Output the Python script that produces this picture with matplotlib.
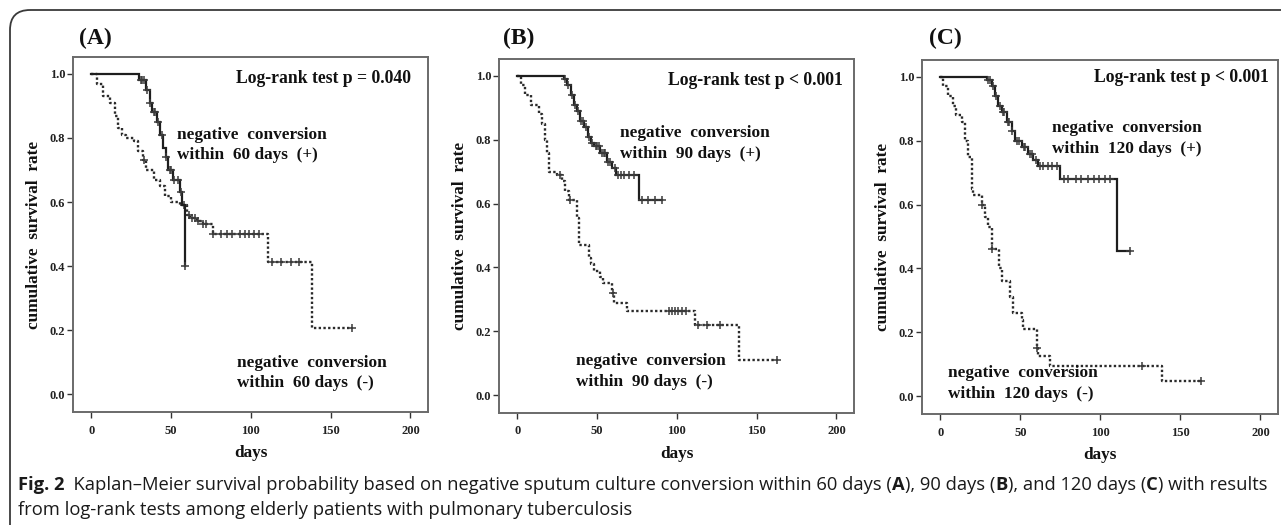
import numpy as np
import matplotlib
matplotlib.use("Agg")
import matplotlib.pyplot as plt
from matplotlib.patches import FancyBboxPatch

# ---------------- data ----------------
# Panel A: 60 days
A_pos_t = [0, 30, 34.5, 36.5, 38, 41, 43, 45, 46.5, 48, 51, 55.5, 57, 59]
A_pos_s = [1.0, 0.98, 0.95, 0.91, 0.88, 0.85, 0.81, 0.77, 0.74, 0.70, 0.67, 0.63, 0.59, 0.40]
A_pos_end = 59
A_pos_cens = [31, 32, 33, 35, 37, 39, 40, 42, 44, 47, 49, 50, 52, 54, 56, 59]

A_neg_t = [0, 3.5, 7.5, 12, 15, 17, 19, 22, 26.5, 29.5, 32.5, 34, 39, 43, 46, 50, 55.5, 60, 62, 66, 70, 76, 110.5, 138.5]
A_neg_s = [1.0, 0.97, 0.93, 0.91, 0.87, 0.83, 0.81, 0.80, 0.79, 0.76, 0.73, 0.70, 0.67, 0.65, 0.62, 0.60, 0.59, 0.56, 0.55, 0.54, 0.53, 0.50, 0.414, 0.207]
A_neg_end = 163.5
A_neg_cens = [33, 58, 61, 63, 65, 67, 70, 72, 76, 81, 85, 88, 93, 96, 99, 102, 105, 113, 119, 125, 130, 163.5]

# Panel B: 90 days
B_pos_t = [0, 29, 31, 33.5, 35.5, 37.5, 39.5, 42, 44, 46, 48, 52, 56, 59.5, 62, 76.2]
B_pos_s = [1.0, 0.99, 0.97, 0.94, 0.91, 0.89, 0.86, 0.84, 0.81, 0.79, 0.78, 0.76, 0.73, 0.71, 0.69, 0.61]
B_pos_end = 90.8
B_pos_cens = [30, 32, 34, 36, 38, 40, 41, 43, 45, 47, 49, 50, 51, 53, 54, 55, 57, 58, 61, 63, 65, 67, 70, 73, 78, 82, 86, 90.8]

B_neg_t = [0, 2, 5, 8.5, 13.5, 15.5, 17.5, 18.8, 19.8, 25, 28, 30, 32.4, 37.2, 38.6, 45, 46, 48, 52, 53.5, 59.5, 60.5, 69, 111.5, 138.8]
B_neg_s = [1.0, 0.97, 0.94, 0.91, 0.88, 0.85, 0.80, 0.76, 0.70, 0.69, 0.67, 0.64, 0.61, 0.555, 0.47, 0.43, 0.41, 0.39, 0.37, 0.35, 0.32, 0.29, 0.265, 0.22, 0.11]
B_neg_end = 162.8
B_neg_cens = [27, 33, 59.8, 95, 97, 99, 101, 103, 106, 113, 119, 127, 162.8]

# Panel C: 120 days
C_pos_t = [0, 29, 32, 34, 36, 38.3, 41.4, 44.6, 46.7, 50.8, 55, 58, 61.3, 74.9, 110.5]
C_pos_s = [1.0, 0.99, 0.97, 0.94, 0.91, 0.89, 0.86, 0.83, 0.80, 0.78, 0.76, 0.74, 0.72, 0.68, 0.455]
C_pos_end = 118.8
C_pos_cens = [30, 31, 33, 35, 37, 39, 40, 42, 43, 45, 48, 49, 52, 53, 56, 57, 60, 62, 64, 67, 70, 73,
              77, 80, 85, 88, 92, 96, 99, 103, 106, 118.8]

C_neg_t = [0, 1.7, 4.8, 8, 10, 13.2, 15.3, 17.4, 19.5, 20.5, 25.7, 27.8, 30, 32.4, 36.6, 38.3, 43.5, 45.6, 50.8, 51.9, 60.3, 61, 68.6, 138.3]
C_neg_s = [1.0, 0.97, 0.94, 0.91, 0.88, 0.86, 0.80, 0.75, 0.65, 0.63, 0.60, 0.56, 0.53, 0.46, 0.40, 0.36, 0.31, 0.26, 0.24, 0.21, 0.15, 0.125, 0.094, 0.047]
C_neg_end = 162.8
C_neg_cens = [26, 32.5, 60.5, 126, 162.8]

panel_titles = ["(A)", "(B)", "(C)"]
pvalue_texts = ["Log-rank test p = 0.040", "Log-rank test p < 0.001", "Log-rank test p < 0.001"]
pos_labels = ["negative  conversion\nwithin  60 days  (+)",
              "negative  conversion\nwithin  90 days  (+)",
              "negative  conversion\nwithin  120 days  (+)"]
neg_labels = ["negative  conversion\nwithin  60 days  (-)",
              "negative  conversion\nwithin  90 days  (-)",
              "negative  conversion\nwithin  120 days  (-)"]
x_ticks = [0, 50, 100, 150, 200]
y_ticks = [0.0, 0.2, 0.4, 0.6, 0.8, 1.0]
x_label = "days"
y_label = "cumulative  survival  rate"

caption1 = [("Fig. 2", "bold"),
            ("  Kaplan–Meier survival probability based on negative sputum culture conversion within 60 days (", "normal"),
            ("A", "bold"), ("), 90 days (", "normal"), ("B", "bold"), ("), and 120 days (", "normal"),
            ("C", "bold"), (") with results", "normal")]
caption2 = "from log-rank tests among elderly patients with pulmonary tuberculosis"

# ---------------- figure ----------------
W, H = 1281, 525
fig = plt.figure(figsize=(W / 100, H / 100), dpi=100)
fig.patch.set_facecolor("white")

ov = fig.add_axes([0, 0, 1, 1])
ov.set_xlim(0, W)
ov.set_ylim(H, 0)
ov.axis("off")
frame = FancyBboxPatch((10, 10), 1500, 700, boxstyle="round,pad=0,rounding_size=20",
                       fill=False, edgecolor="#3a3a3a", linewidth=1.3, clip_on=False)
ov.add_patch(frame)

serif = "Liberation Serif"
panels = [
    dict(rect=[73 / W, 1 - 412 / H, 355 / W, 355 / H], title_x=79,
         pos=(A_pos_t, A_pos_s, A_pos_end, A_pos_cens), neg=(A_neg_t, A_neg_s, A_neg_end, A_neg_cens),
         p_xy=(200.5, 0.985), pos_xy=(53.5, 0.778), neg_xy=(91, 0.066)),
    dict(rect=[499 / W, 1 - 413 / H, 355 / W, 354 / H], title_x=503,
         pos=(B_pos_t, B_pos_s, B_pos_end, B_pos_cens), neg=(B_neg_t, B_neg_s, B_neg_end, B_neg_cens),
         p_xy=(204, 0.987), pos_xy=(64.5, 0.789), neg_xy=(37, 0.075)),
    dict(rect=[922 / W, 1 - 414 / H, 356 / W, 354 / H], title_x=929,
         pos=(C_pos_t, C_pos_s, C_pos_end, C_pos_cens), neg=(C_neg_t, C_neg_s, C_neg_end, C_neg_cens),
         p_xy=(205.5, 0.997), pos_xy=(70, 0.807), neg_xy=(5, 0.04)),
]

curve_col = "#1e1e1e"
TXT = 12.4


def draw_km(ax, t, s, end, cens, style):
    t = np.asarray(t, float)
    s = np.asarray(s, float)
    tt = np.append(t, end)
    ss = np.append(s, s[-1])
    if style == "solid":
        ax.step(tt, ss, where="post", color=curve_col, lw=1.6, solid_joinstyle="miter")
    else:
        ax.step(tt, ss, where="post", color="#2a2a2a", lw=1.7, linestyle=(0, (1, 1)))
    c = np.asarray(cens, float)
    idx = np.searchsorted(t, c, side="right") - 1
    ax.plot(c, s[idx], linestyle="none", marker="+", ms=6, mew=1.1, color="#3a3a3a")


for i, p in enumerate(panels):
    ax = fig.add_axes(p["rect"])
    ax.set_xlim(-11.5, 211)
    ax.set_ylim(-0.056, 1.053)
    draw_km(ax, *p["neg"], style="dotted")
    draw_km(ax, *p["pos"], style="solid")
    for sp in ax.spines.values():
        sp.set_color("#6a6a6a")
        sp.set_linewidth(1.4)
    ax.set_xticks(x_ticks)
    ax.set_yticks(y_ticks)
    ax.set_yticklabels([f"{v:.1f}" for v in y_ticks])
    ax.tick_params(direction="out", length=4, width=1.0, color="#333333", pad=1.5,
                   labelsize=9, labelcolor="#222222")
    for lab in ax.get_xticklabels() + ax.get_yticklabels():
        lab.set_fontfamily(serif)
        lab.set_fontweight("bold")
    ax.tick_params(axis="x", pad=5)
    ax.set_xlabel(x_label, family=serif, weight="bold", fontsize=TXT, labelpad=6, color="#111111")
    ax.set_ylabel(y_label, family=serif, weight="bold", fontsize=TXT, labelpad=6, color="#111111")
    ax.text(*p["p_xy"], pvalue_texts[i], ha="right", va="center", family=serif,
            weight="bold", fontsize=12.7, color="#111111")
    ax.text(*p["pos_xy"], pos_labels[i], ha="left", va="center", family=serif,
            weight="bold", fontsize=TXT, color="#111111", linespacing=1.4)
    ax.text(*p["neg_xy"], neg_labels[i], ha="left", va="center", family=serif,
            weight="bold", fontsize=TXT, color="#111111", linespacing=1.4)
    ov.text(p["title_x"], 38, panel_titles[i], ha="left", va="center", family=serif,
            weight="bold", fontsize=17, color="#111111")

# ---------------- caption ----------------
cap_family = ["Open Sans", "DejaVu Sans"]
renderer = fig.canvas.get_renderer()
probe = ov.text(0, 0, "".join(t for t, _ in caption1), family=cap_family, fontsize=10)
wpx = probe.get_window_extent(renderer).width
probe.remove()
cap_size = 10 * 1250 / wpx
prev = ov.text(18, 494, caption1[0][0], family=cap_family, weight=caption1[0][1],
               fontsize=cap_size, va="bottom", ha="left", color="#1a1a1a")
for txt, wgt in caption1[1:]:
    prev = ov.annotate(txt, xy=(1, 0), xycoords=prev, va="bottom", ha="left",
                       family=cap_family, weight=wgt, fontsize=cap_size, color="#1a1a1a")
ov.text(18, 519, caption2, family=cap_family, fontsize=cap_size, va="bottom", ha="left",
        color="#1a1a1a")

fig.savefig("out.png", dpi=100)
